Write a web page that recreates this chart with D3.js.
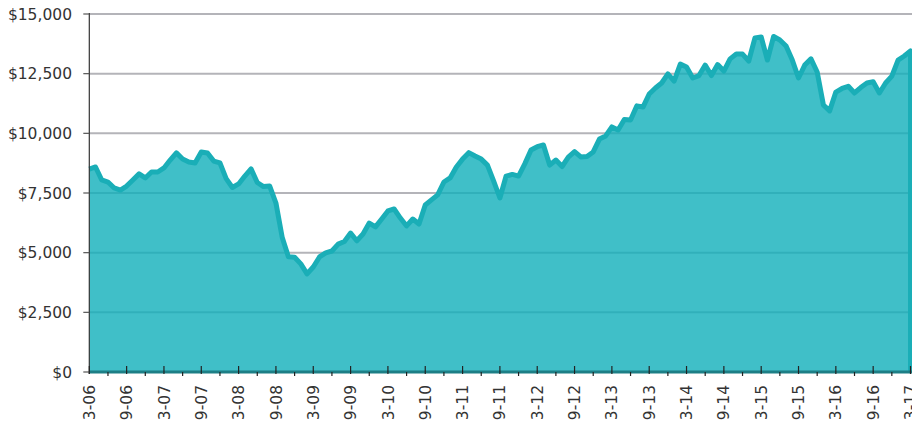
<!DOCTYPE html>
<html><head><meta charset="utf-8">
<script src="https://cdn.jsdelivr.net/npm/d3@7"></script>
<style>body{margin:0;background:#fff}svg{display:block}</style>
</head><body>
<svg id="chart" width="912" height="421"></svg>
<script>
// Monthly values, Mar 2006 .. Mar 2017
const values = [
 8500,8590,8045,7960,7710,7625,7790,8045,8300,8130,8380,8380,
 8550,8880,9180,8925,8800,8760,9220,9180,8840,8760,8100,7730,
 7880,8210,8510,7940,7770,7790,7080,5650,4830,4810,4530,4110,
 4400,4820,4990,5070,5360,5470,5820,5500,5780,6240,6080,6410,
 6750,6830,6450,6120,6410,6200,7000,7210,7420,7960,8130,8590,
 8920,9190,9050,8920,8670,8000,7290,8210,8280,8210,8720,9300,
 9440,9510,8670,8880,8610,9000,9230,9010,9030,9220,9760,9890,
 10270,10140,10580,10560,11150,11100,11650,11900,12110,12490,12190,12900,
 12780,12320,12420,12860,12420,12880,12610,13120,13320,13320,13030,14000,
 14040,13070,14060,13910,13660,13070,12320,12860,13120,12570,11190,10940,
 11730,11880,11970,11690,11920,12110,12160,11690,12110,12400,13070,13240,
 13450
];
const xTickLabels = ["3-06","9-06","3-07","9-07","3-08","9-08","3-09","9-09","3-10","9-10","3-11","9-11","3-12","9-12","3-13","9-13","3-14","9-14","3-15","9-15","3-16","9-16","3-17"];
const yTicks = [0,2500,5000,7500,10000,12500,15000];

(function () {
const svg = d3.select("#chart");
const mL = 89.3, mR = 910.5, mT = 14, mB = 372;
const x = d3.scaleLinear().domain([0, values.length - 1]).range([mL, mR]);
const y = d3.scaleLinear().domain([0, 15000]).range([mB, mT]);
const fmt = v => "$" + d3.format(",")(v);

// gridlines
svg.append("g").selectAll("line").data(yTicks.filter(d => d > 0)).join("line")
  .attr("x1", mL).attr("x2", 912)
  .attr("y1", d => y(d)).attr("y2", d => y(d))
  .attr("stroke", "#b4b4b9").attr("stroke-width", 2);

// area
const area = d3.area().x((d, i) => x(i)).y0(y(0)).y1(d => y(d));
svg.append("path").datum(values).attr("d", area)
  .attr("fill", "#10afba").attr("fill-opacity", 0.8);

// outline line incl. right edge drop
const line = d3.line().x((d, i) => x(i)).y(d => y(d));
const lastI = values.length - 1;
svg.append("path")
  .attr("d", line(values) + "L" + x(lastI) + "," + y(0))
  .attr("fill", "none").attr("stroke", "#1aaeb7").attr("stroke-width", 5)
  .attr("stroke-linejoin", "round").attr("stroke-linecap", "butt");

// y axis
const yAxis = svg.append("g");
yAxis.append("line").attr("x1", mL).attr("x2", mL).attr("y1", mT - 1).attr("y2", mB + 2)
  .attr("stroke", "#333").attr("stroke-width", 1.2);
yAxis.selectAll("line.t").data(yTicks).join("line").attr("class", "t")
  .attr("x1", mL - 6).attr("x2", mL)
  .attr("y1", d => y(d)).attr("y2", d => y(d))
  .attr("stroke", "#555").attr("stroke-width", 1.2);
yAxis.selectAll("text").data(yTicks).join("text")
  .attr("x", 72).attr("y", d => y(d)).attr("dy", "0.36em")
  .attr("text-anchor", "end")
  .attr("font-family", "DejaVu Sans, Verdana, sans-serif").attr("font-size", "15.5px")
  .attr("fill", "#333").text(fmt);

// x axis
const xAxis = svg.append("g");
xAxis.append("line").attr("x1", mL).attr("x2", 912).attr("y1", mB).attr("y2", mB)
  .attr("stroke", "#1d7f86").attr("stroke-width", 3);
const majors = xTickLabels.map((l, k) => k * 6);
const minors = d3.range(3, values.length, 6);
xAxis.selectAll("line.maj").data(majors).join("line").attr("class", "maj")
  .attr("x1", d => x(d)).attr("x2", d => x(d)).attr("y1", mB - 6).attr("y2", mB + 2)
  .attr("stroke", "#222").attr("stroke-width", 1.2);
xAxis.selectAll("line.min").data(minors).join("line").attr("class", "min")
  .attr("x1", d => x(d)).attr("x2", d => x(d)).attr("y1", mB).attr("y2", mB + 4)
  .attr("stroke", "#222").attr("stroke-width", 1.2);
xAxis.selectAll("text").data(xTickLabels).join("text")
  .attr("transform", (d, k) => `translate(${x(majors[k])},${mB + 13}) rotate(-90)`)
  .attr("text-anchor", "end").attr("dy", "0.36em")
  .attr("font-family", "DejaVu Sans, Verdana, sans-serif").attr("font-size", "15.5px")
  .attr("fill", "#333").text(d => d);
})();
</script>
</body></html>
